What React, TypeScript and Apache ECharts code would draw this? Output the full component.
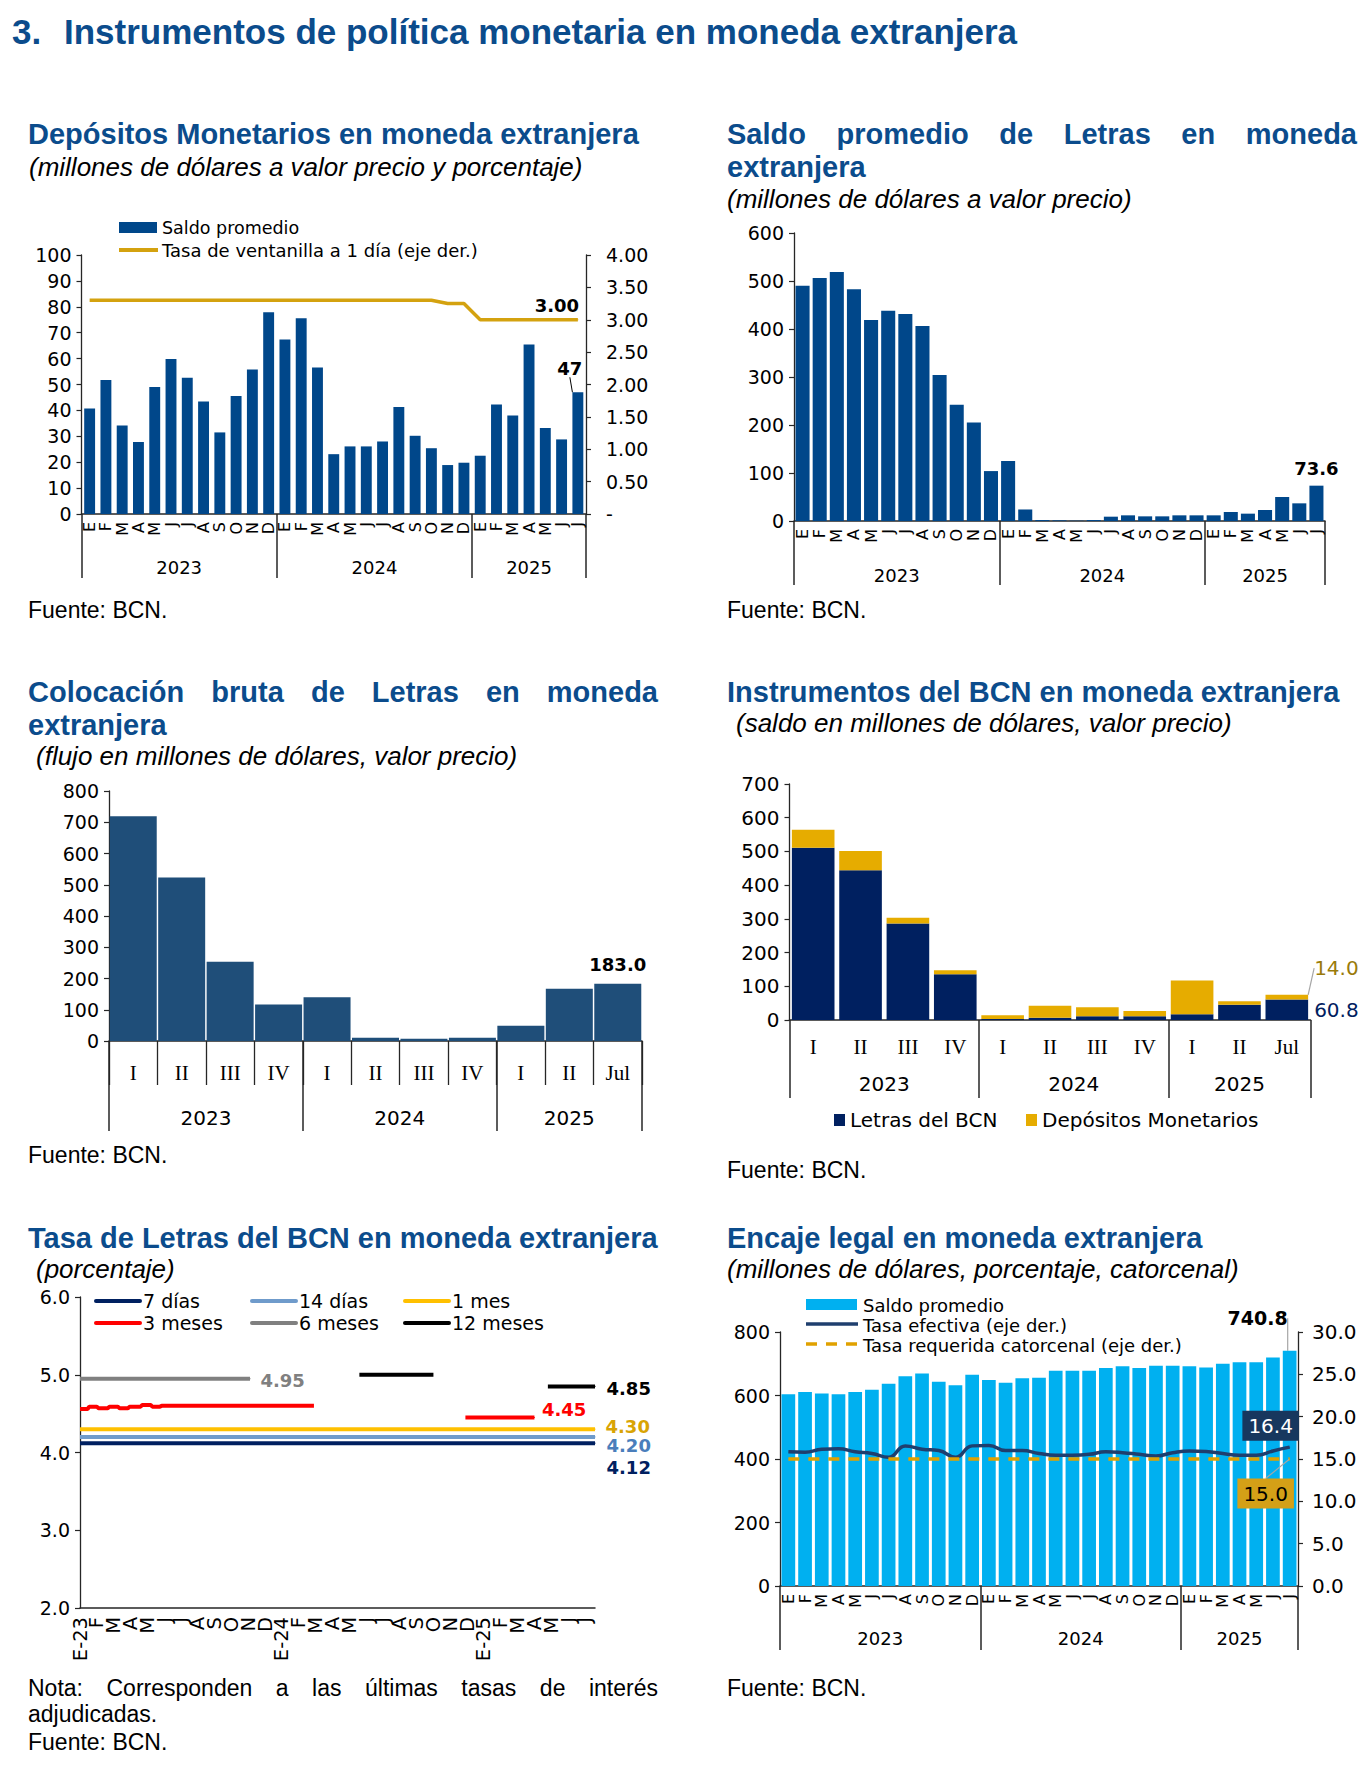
import React, { useEffect, useRef } from "react";
import * as echarts from "echarts";

const TITLE_COLOR = "#0B4C8C";
const F_AX = '"DejaVu Sans", Verdana, sans-serif';
const F_TI = '"Liberation Sans", Arial, sans-serif';
const F_SE = '"Liberation Serif", "Times New Roman", serif';
const AXC = "#262626";

// ---------- categories ----------
const mesesAnio = ["E", "F", "M", "A", "M", "J", "J", "A", "S", "O", "N", "D"];
const mesesHastaJulio = ["E", "F", "M", "A", "M", "J", "J"];
const meses31 = [...mesesAnio, ...mesesAnio, ...mesesHastaJulio];
const anios = ["2023", "2024", "2025"];
const trimestres = ["I", "II", "III", "IV", "I", "II", "III", "IV", "I", "II", "Jul"];
const mesesTasa = [
  "E-23", "F", "M", "A", "M", "J", "J", "A", "S", "O", "N", "D",
  "E-24", "F", "M", "A", "M", "J", "J", "A", "S", "O", "N", "D",
  "E-25", "F", "M", "A", "M", "J", "J",
];
const limitesMes = [0, 12, 24, 31];
const centrosMes = [6, 18, 27.5];
const limitesTrim = [0, 4, 8, 11];
const centrosTrim = [2, 6, 9.5];

// ---------- chart 1: Depósitos Monetarios ----------
const depSaldo = [
  40.7, 51.7, 34.2, 27.8, 49, 59.8, 52.6, 43.4, 31.5, 45.6, 55.8, 77.9,
  67.4, 75.6, 56.6, 23.1, 26.1, 26.1, 28, 41.3, 30.2, 25.4, 18.9, 19.8,
  22.5, 42.3, 38, 65.4, 33.2, 28.8, 47,
];
const tasaVentanilla = [
  3.3, 3.3, 3.3, 3.3, 3.3, 3.3, 3.3, 3.3, 3.3, 3.3, 3.3, 3.3,
  3.3, 3.3, 3.3, 3.3, 3.3, 3.3, 3.3, 3.3, 3.3, 3.3, 3.25, 3.25,
  3.0, 3.0, 3.0, 3.0, 3.0, 3.0, 3.0,
];

// ---------- chart 2: Saldo promedio de Letras ----------
const letrasSaldo = [
  490, 506, 519, 483, 419, 438, 431, 406, 304, 242, 205, 104,
  125, 24, 2, 1.4, 0.7, 2, 9, 11.8, 9.7, 9.7, 11.8, 11.8,
  11.8, 18.8, 15.3, 22.9, 50, 36.8, 73.6,
];

// ---------- chart 3: Colocación bruta ----------
const colocacion = [719, 523, 254, 117, 140, 10.6, 7.5, 10.6, 49, 167, 183];

// ---------- chart 4: Instrumentos del BCN ----------
const instLetras = [511, 444.5, 286, 135.6, 3, 7, 10.9, 10.9, 16.8, 45.5, 60.8];
const instDepositos = [53, 56.5, 17, 11.9, 10.9, 35.6, 26.7, 15.8, 100, 9.9, 14.0];

// ---------- chart 5: Tasa de Letras (x = meses desde E-23) ----------
const tasaXMax = 30.6;
const tasa7dias = [[0, 4.12], [30.6, 4.12]];
const tasa14dias = [[0, 4.2], [30.6, 4.2]];
const tasa1mes = [[0, 4.3], [30.6, 4.3]];
const tasa3meses = [
  [0, 4.56], [0.45, 4.56], [0.55, 4.59], [1.0, 4.59], [1.1, 4.57], [1.65, 4.57],
  [1.75, 4.59], [2.25, 4.59], [2.35, 4.57], [2.85, 4.57], [2.95, 4.59], [3.6, 4.59],
  [3.7, 4.61], [4.2, 4.61], [4.3, 4.59], [4.75, 4.59], [4.85, 4.6], [13.9, 4.6],
  [14.2, "-"], [22.9, 4.45], [27.0, 4.45],
];
const tasa6meses = [[0, 4.95], [10.1, 4.95]];
const tasa12meses = [[16.6, 5.0], [21.0, 5.0], [24, "-"], [27.8, 4.85], [30.6, 4.85]];

// ---------- chart 6: Encaje legal ----------
const encajeSaldo = [
  604, 611, 606, 604, 611, 618, 637, 661, 669, 643, 632, 665,
  649, 640, 654, 656, 678, 678, 678, 687, 692, 687, 694, 694,
  692, 688, 700, 705, 705, 720, 740.8,
];
const tasaEfectiva = [
  15.85, 15.8, 16.15, 16.2, 15.85, 15.65, 15.2, 16.55, 16.15, 16.0, 15.2, 16.55,
  16.6, 16.0, 16.0, 15.65, 15.45, 15.45, 15.55, 15.85, 15.75, 15.55, 15.35, 15.75,
  15.95, 15.9, 15.65, 15.45, 15.45, 15.95, 16.4,
];
const tasaRequerida = [
  15, 15, 15, 15, 15, 15, 15, 15, 15, 15, 15, 15,
  15, 15, 15, 15, 15, 15, 15, 15, 15, 15, 15, 15,
  15, 15, 15, 15, 15, 15, 15,
];

// ---------- helpers ----------
type O = any;

function T(text: string, x: number, y: number, o: O = {}) {
  const align = o.align || "left";
  return {
    type: "text",
    x,
    y,
    silent: true,
    style: {
      text,
      fill: o.color || "#000",
      fontSize: o.size || 23,
      fontFamily: o.family || F_TI,
      fontWeight: o.weight || "normal",
      fontStyle: o.style || "normal",
      textAlign: align,
      align,
      textVerticalAlign: "middle",
      verticalAlign: "middle",
    },
  };
}

let measureCtx: CanvasRenderingContext2D | null = null;
function textWidth(t: string, font: string) {
  if (!measureCtx) measureCtx = document.createElement("canvas").getContext("2d");
  measureCtx!.font = font;
  return measureCtx!.measureText(t).width;
}

function justify(line: string, x0: number, x1: number, y: number, o: O) {
  const font = `${o.style || "normal"} ${o.weight || "normal"} ${o.size}px "Liberation Sans"`;
  const words = line.split(" ");
  const widths = words.map((w) => textWidth(w, font));
  const total = widths.reduce((a, b) => a + b, 0);
  const gap = (x1 - x0 - total) / (words.length - 1);
  let x = x0;
  return words.map((w, i) => {
    const el = T(w, x, y, o);
    x += widths[i] + gap;
    return el;
  });
}

function yAx(grid: number, min: number, max: number, interval: number, o: O = {}) {
  return {
    type: "value",
    gridIndex: grid,
    min,
    max,
    interval,
    position: o.position || "left",
    splitLine: { show: false },
    axisLine: { show: true, onZero: false, lineStyle: { color: AXC, width: 1.3 } },
    axisTick: { show: true, length: 5, lineStyle: { color: AXC, width: 1.2 } },
    axisLabel: {
      color: "#000",
      fontFamily: F_AX,
      fontSize: o.fontSize || 19,
      margin: o.margin ?? 10,
      formatter: o.formatter,
    },
  };
}

function catAx(grid: number, data: string[], o: O = {}) {
  return {
    type: "category",
    gridIndex: grid,
    data,
    position: "bottom",
    boundaryGap: o.boundaryGap ?? true,
    axisLine: { show: o.noLine ? false : true, onZero: false, lineStyle: { color: AXC, width: 1.5 } },
    axisTick: o.tick
      ? { show: true, interval: 0, length: o.tick, lineStyle: { color: AXC, width: 1.3 } }
      : { show: false },
    axisLabel: {
      interval: 0,
      rotate: o.rotate || 0,
      fontFamily: o.family || F_AX,
      fontSize: o.fontSize || 16,
      color: "#000",
      margin: o.margin ?? 8,
    },
  };
}

function yearAx(grid: number, max: number, ticks: number[], mids: number[], tickLen: number, margin: number, fontSize: number) {
  return {
    type: "value",
    gridIndex: grid,
    min: 0,
    max,
    position: "bottom",
    axisLine: { show: false, onZero: false },
    splitLine: { show: false },
    axisTick: { show: true, customValues: ticks, length: tickLen, lineStyle: { color: AXC, width: 1.5 } },
    axisLabel: {
      show: true,
      customValues: mids,
      formatter: (v: number) => {
        const i = mids.findIndex((m) => Math.abs(m - v) < 1e-6);
        return i >= 0 ? anios[i] : "";
      },
      margin,
      fontFamily: F_AX,
      fontSize,
      color: "#000",
    },
  };
}

function lastLabel(arr: any[], label: O, extra: O = {}) {
  return arr.map((d, i) =>
    i === arr.length - 1 ? { value: d, ...extra, label: { show: true, ...label } } : d
  );
}

function buildOption() {
  const g: any[] = [];
  // Main title
  g.push(T("3.", 12, 31.5, { size: 35, weight: "bold", color: TITLE_COLOR }));
  g.push(T("Instrumentos de política monetaria en moneda extranjera", 64, 31.5, { size: 35, weight: "bold", color: TITLE_COLOR }));

  const tt = { size: 29, weight: "bold", color: TITLE_COLOR };
  const st = { size: 26, style: "italic", color: "#000" };
  // Chart 1 titles
  g.push(T("Depósitos Monetarios en moneda extranjera", 28, 134, tt));
  g.push(T("(millones de dólares a valor precio y porcentaje)", 29, 166.5, st));
  // Chart 2
  g.push(...justify("Saldo promedio de Letras en moneda", 727, 1357, 134, tt));
  g.push(T("extranjera", 727, 166.5, tt));
  g.push(T("(millones de dólares a valor precio)", 727, 199, st));
  // Chart 3
  g.push(...justify("Colocación bruta de Letras en moneda", 28, 658, 692, tt));
  g.push(T("extranjera", 28, 724.5, tt));
  g.push(T("(flujo en millones de dólares, valor precio)", 36, 756, st));
  // Chart 4
  g.push(T("Instrumentos del BCN en moneda extranjera", 727, 692, tt));
  g.push(T("(saldo en millones de dólares, valor precio)", 736, 723, st));
  // Chart 5
  g.push(T("Tasa de Letras del BCN en moneda extranjera", 28, 1237.5, tt));
  g.push(T("(porcentaje)", 36, 1269, st));
  // Chart 6
  g.push(T("Encaje legal en moneda extranjera", 727, 1237.5, tt));
  g.push(T("(millones de dólares, porcentaje, catorcenal)", 727, 1269, st));

  // Fuentes
  const ft = { size: 23 };
  g.push(T("Fuente: BCN.", 28, 610, ft));
  g.push(T("Fuente: BCN.", 727, 610, ft));
  g.push(T("Fuente: BCN.", 28, 1155, ft));
  g.push(T("Fuente: BCN.", 727, 1170, ft));
  g.push(...justify("Nota: Corresponden a las últimas tasas de interés", 28, 658, 1687.5, ft));
  g.push(T("adjudicadas.", 28, 1714, ft));
  g.push(T("Fuente: BCN.", 28, 1741.5, ft));
  g.push(T("Fuente: BCN.", 727, 1687.5, ft));

  // Legend chart 1
  g.push({ type: "rect", silent: true, shape: { x: 119, y: 222, width: 38, height: 11 }, style: { fill: "#00478A" } });
  g.push({ type: "line", silent: true, shape: { x1: 119, y1: 250, x2: 158, y2: 250 }, style: { stroke: "#D4A20F", lineWidth: 4 } });
  g.push(T("Saldo promedio", 162, 228, { size: 17.5, family: F_AX }));
  g.push(T("Tasa de ventanilla a 1 día (eje der.)", 162, 250, { size: 18, family: F_AX }));

  // Legend chart 4
  g.push({ type: "rect", silent: true, shape: { x: 834, y: 1114, width: 11, height: 12 }, style: { fill: "#002060" } });
  g.push(T("Letras del BCN", 850, 1120, { size: 20, family: F_AX }));
  g.push({ type: "rect", silent: true, shape: { x: 1026, y: 1114, width: 11, height: 12 }, style: { fill: "#E6AC00" } });
  g.push(T("Depósitos Monetarios", 1042, 1120, { size: 20, family: F_AX }));

  // Legend chart 5
  const leg5 = [
    { n: "7 días", c: "#002060", x: 96, y: 1301 },
    { n: "14 días", c: "#6F9BCB", x: 252, y: 1301 },
    { n: "1 mes", c: "#FFC000", x: 405, y: 1301 },
    { n: "3 meses", c: "#FF0000", x: 96, y: 1323 },
    { n: "6 meses", c: "#808080", x: 252, y: 1323 },
    { n: "12 meses", c: "#000000", x: 405, y: 1323 },
  ];
  leg5.forEach((l) => {
    g.push({ type: "line", silent: true, shape: { x1: l.x, y1: l.y, x2: l.x + 44, y2: l.y }, style: { stroke: l.c, lineWidth: 4, lineCap: "round" } });
    g.push(T(l.n, l.x + 47, l.y, { size: 19, family: F_AX }));
  });

  // Legend chart 6
  g.push({ type: "rect", silent: true, shape: { x: 806, y: 1299, width: 51, height: 11 }, style: { fill: "#00B0F0" } });
  g.push({ type: "line", silent: true, shape: { x1: 806, y1: 1324, x2: 858, y2: 1324 }, style: { stroke: "#1F3F6E", lineWidth: 3.5 } });
  g.push({ type: "line", silent: true, shape: { x1: 806, y1: 1344, x2: 858, y2: 1344 }, style: { stroke: "#E0A100", lineWidth: 3.5, lineDash: [11, 9] } });
  g.push(T("Saldo promedio", 863, 1305, { size: 18, family: F_AX }));
  g.push(T("Tasa efectiva (eje der.)", 863, 1325, { size: 18, family: F_AX }));
  g.push(T("Tasa requerida catorcenal (eje der.)", 863, 1345, { size: 18, family: F_AX }));

  const g5 = { left: 80, top: 1297, width: 515, height: 311 };
  const grid = [
    { left: 81.5, top: 255, width: 504.5, height: 259 },
    { left: 794, top: 233, width: 531, height: 288 },
    { left: 109, top: 791, width: 533, height: 250 },
    { left: 789.5, top: 784, width: 521, height: 236 },
    g5,
    { left: 780, top: 1332, width: 518, height: 254 },
    // month-label overlay for chart 5 (categories 0..30 on the 0..30.6 scale)
    { left: g5.left, top: g5.top, width: (g5.width * (mesesTasa.length - 1)) / tasaXMax, height: g5.height },
  ];

  const xAxis = [
    catAx(0, meses31, { rotate: 90, fontSize: 16, margin: 8 }), // 0
    yearAx(0, 31, limitesMes, centrosMes, 64, 44, 18), // 1
    catAx(1, meses31, { rotate: 90, fontSize: 16, margin: 8 }), // 2
    yearAx(1, 31, limitesMes, centrosMes, 64, 45, 18), // 3
    catAx(2, trimestres, { family: F_SE, fontSize: 21, margin: 21, tick: 44 }), // 4
    yearAx(2, 11, limitesTrim, centrosTrim, 90, 67, 20), // 5
    catAx(3, trimestres, { family: F_SE, fontSize: 21, margin: 16 }), // 6
    yearAx(3, 11, limitesTrim, centrosTrim, 78, 54, 20), // 7
    {
      type: "value",
      gridIndex: 4,
      min: 0,
      max: tasaXMax,
      position: "bottom",
      splitLine: { show: false },
      axisLine: { show: true, onZero: false, lineStyle: { color: AXC, width: 1.5 } },
      axisTick: { show: false },
      axisLabel: { show: false },
    }, // 8
    catAx(5, meses31, { rotate: 90, fontSize: 16, margin: 8 }), // 9
    yearAx(5, 31, limitesMes, centrosMes, 64, 43, 18), // 10
    catAx(6, mesesTasa, { rotate: 90, fontSize: 19.5, margin: 9, boundaryGap: false, noLine: true }), // 11
  ];

  const yAxis = [
    yAx(0, 0, 100, 10), // 0
    yAx(0, 0, 4, 0.5, { position: "right", margin: 20, formatter: (v: number) => (v === 0 ? "-" : v.toFixed(2)) }), // 1
    yAx(1, 0, 600, 100), // 2
    yAx(2, 0, 800, 100), // 3
    yAx(3, 0, 700, 100, { fontSize: 20 }), // 4
    yAx(4, 2, 6, 1, { formatter: (v: number) => v.toFixed(1) }), // 5
    yAx(5, 0, 800, 200), // 6
    yAx(5, 0, 30, 5, { position: "right", margin: 14, fontSize: 20, formatter: (v: number) => v.toFixed(1) }), // 7
    { type: "value", gridIndex: 6, show: false, min: 0, max: 1 }, // 8
  ];

  const bold = { fontFamily: F_AX, fontWeight: "bold", fontSize: 18, color: "#000" };

  const mk5 = (name: string, data: any[], color: string, label: O) => ({
    type: "line",
    name,
    xAxisIndex: 8,
    yAxisIndex: 5,
    data: lastLabel(data, { position: "right", fontFamily: F_AX, fontWeight: "bold", fontSize: 18, ...label, formatter: (p: any) => Number(p.value[1]).toFixed(2) }, { symbol: "circle", symbolSize: 1 }),
    symbol: "none",
    lineStyle: { color, width: 4 },
    itemStyle: { color },
  });

  const series: any[] = [
    // Chart 1
    {
      type: "bar",
      name: "Saldo promedio",
      xAxisIndex: 0,
      yAxisIndex: 0,
      barCategoryGap: "33%",
      itemStyle: { color: "#00478A" },
      data: lastLabel(depSaldo, { position: "top", ...bold, formatter: (p: any) => String(p.value) }),
      labelLayout: { dx: -8, dy: -10 },
      labelLine: { show: true, lineStyle: { color: "#000", width: 1 } },
    },
    {
      type: "line",
      name: "Tasa de ventanilla a 1 día (eje der.)",
      xAxisIndex: 0,
      yAxisIndex: 1,
      symbol: "none",
      lineStyle: { color: "#D4A20F", width: 3.5 },
      itemStyle: { color: "#D4A20F" },
      data: lastLabel(tasaVentanilla, { position: "top", offset: [-21, 0], ...bold, formatter: (p: any) => Number(p.value).toFixed(2) }, { symbol: "circle", symbolSize: 1 }),
    },
    // Chart 2
    {
      type: "bar",
      name: "Saldo promedio de Letras",
      xAxisIndex: 2,
      yAxisIndex: 2,
      barCategoryGap: "18%",
      itemStyle: { color: "#00478A" },
      data: lastLabel(letrasSaldo, { position: "top", distance: 8, ...bold, formatter: (p: any) => Number(p.value).toFixed(1) }),
    },
    // Chart 3
    {
      type: "bar",
      name: "Colocación bruta",
      xAxisIndex: 4,
      yAxisIndex: 3,
      barCategoryGap: "3%",
      itemStyle: { color: "#1F4E79" },
      data: lastLabel(colocacion, { position: "top", distance: 10, ...bold, formatter: (p: any) => Number(p.value).toFixed(1) }),
    },
    // Chart 4
    {
      type: "bar",
      name: "Letras del BCN",
      stack: "inst",
      xAxisIndex: 6,
      yAxisIndex: 4,
      barCategoryGap: "10%",
      itemStyle: { color: "#002060" },
      data: lastLabel(instLetras, { position: "right", distance: 6, fontFamily: F_AX, fontSize: 20, color: "#002060", formatter: (p: any) => Number(p.value).toFixed(1) }),
    },
    {
      type: "bar",
      name: "Depósitos Monetarios",
      stack: "inst",
      xAxisIndex: 6,
      yAxisIndex: 4,
      barCategoryGap: "10%",
      itemStyle: { color: "#E6AC00" },
      data: lastLabel(instDepositos, { position: "right", distance: 6, fontFamily: F_AX, fontSize: 20, color: "#9A7B0A", formatter: (p: any) => Number(p.value).toFixed(1) }),
      labelLayout: { dy: -29 },
      labelLine: { show: true, lineStyle: { color: "#A6A6A6", width: 1.2 } },
    },
    // Chart 5
    mk5("7 días", tasa7dias, "#002060", { color: "#002060", offset: [0, 24], distance: 11 }),
    mk5("14 días", tasa14dias, "#6F9BCB", { color: "#4A7EBB", offset: [0, 9], distance: 11 }),
    mk5("1 mes", tasa1mes, "#FFC000", { color: "#D9A404", offset: [0, -3], distance: 10 }),
    mk5("3 meses", tasa3meses, "#FF0000", { color: "#FF0000", offset: [0, -8], distance: 7 }),
    mk5("6 meses", tasa6meses, "#808080", { color: "#808080", offset: [0, 2], distance: 10 }),
    mk5("12 meses", tasa12meses, "#000000", { color: "#000000", offset: [0, 2], distance: 11 }),
    // Chart 6
    {
      type: "bar",
      name: "Saldo promedio",
      xAxisIndex: 9,
      yAxisIndex: 6,
      barCategoryGap: "18%",
      itemStyle: { color: "#00B0F0" },
      data: lastLabel(encajeSaldo, { position: "top", ...bold, fontSize: 19, formatter: (p: any) => Number(p.value).toFixed(1) }),
      labelLayout: { dx: -32, dy: -18 },
      labelLine: { show: true, lineStyle: { color: "#A6A6A6", width: 1.2 } },
    },
    {
      type: "line",
      name: "Tasa efectiva (eje der.)",
      xAxisIndex: 9,
      yAxisIndex: 7,
      smooth: true,
      symbol: "none",
      lineStyle: { color: "#1F3F6E", width: 3.5 },
      itemStyle: { color: "#1F3F6E" },
      data: lastLabel(
        tasaEfectiva,
        { position: "top", distance: 6, offset: [-19, 0], fontFamily: F_AX, fontSize: 20, color: "#fff", backgroundColor: "#17375E", padding: [5, 6], formatter: (p: any) => Number(p.value).toFixed(1) },
        { symbol: "circle", symbolSize: 1 }
      ),
    },
    {
      type: "line",
      name: "Tasa requerida catorcenal (eje der.)",
      xAxisIndex: 9,
      yAxisIndex: 7,
      symbol: "none",
      lineStyle: { color: "#E0A100", width: 3.5, type: [11, 9] },
      itemStyle: { color: "#E0A100" },
      data: lastLabel(
        tasaRequerida,
        { position: "bottom", distance: 5, fontFamily: F_AX, fontSize: 20, color: "#000", backgroundColor: "#D4A017", padding: [5, 6], formatter: (p: any) => Number(p.value).toFixed(1) },
        { symbol: "circle", symbolSize: 1 }
      ),
      labelLayout: { dx: -24, dy: 14 },
      labelLine: { show: true, lineStyle: { color: "#A6A6A6", width: 1.2 } },
    },
  ];

  return {
    animation: false,
    backgroundColor: "#fff",
    textStyle: { fontFamily: F_AX },
    grid,
    xAxis,
    yAxis,
    series,
    graphic: { elements: g },
  };
}

export default function App() {
  const ref = useRef<HTMLDivElement>(null);
  useEffect(() => {
    document.body.style.margin = "0";
    if (!ref.current) return;
    const chart = echarts.init(ref.current, null, { renderer: "svg" });
    chart.setOption(buildOption() as any);
    return () => chart.dispose();
  }, []);
  return <div ref={ref} style={{ width: 1365, height: 1765, background: "#fff" }} />;
}
